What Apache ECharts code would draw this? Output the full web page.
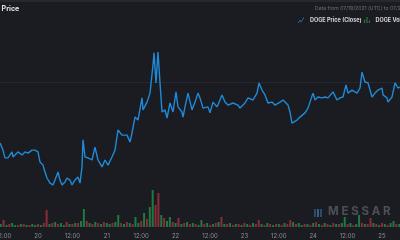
<!DOCTYPE html>
<html><head><meta charset="utf-8">
<script src="https://cdn.jsdelivr.net/npm/echarts@6/dist/echarts.min.js"></script>
<style>html,body{margin:0;padding:0;background:#1b1c21;}#c{width:400px;height:240px;}</style>
</head><body><div id="c"></div>
<script>
// hours since 2021-07-19 00:00 UTC
const priceHours = [10.74,11.79,12.49,13.53,14.93,15.28,17.02,18.42,19.47,20.51,21.91,22.95,24.00,24.70,25.74,26.44,27.14,28.19,29.23,29.93,30.98,31.67,32.37,33.42,34.12,35.16,35.86,36.91,37.95,38.65,39.35,39.70,40.40,41.44,42.84,43.88,44.93,46.33,47.37,48.42,49.81,50.86,51.91,53.30,55.05,56.09,56.79,57.84,58.88,60.28,60.63,62.02,63.07,64.12,64.47,65.16,65.86,66.56,67.26,68.30,69.00,70.05,71.10,72.14,72.84,74.23,74.58,75.28,76.33,77.72,78.77,79.81,80.51,81.56,83.30,84.00,85.05,86.44,87.49,88.19,89.23,90.28,92.02,93.77,94.47,96.21,97.26,99.00,100.40,101.10,102.14,103.19,104.23,105.63,106.67,108.42,109.47,111.21,111.91,112.60,112.95,114.35,115.40,117.14,118.19,118.88,119.93,120.63,121.67,123.07,124.12,125.16,126.91,128.30,129.35,130.40,131.44,132.14,133.53,135.28,136.33,137.02,138.07,139.12,140.51,141.56,142.60,144.00,144.35,145.74,146.09,147.49,147.84,148.54,149.58,150.28];
const priceClose = [0.1797,0.1773,0.1747,0.1747,0.1767,0.1750,0.1767,0.1757,0.1767,0.1763,0.1773,0.1773,0.1767,0.1733,0.1723,0.1700,0.1680,0.1663,0.1657,0.1673,0.1700,0.1673,0.1657,0.1667,0.1680,0.1673,0.1657,0.1673,0.1683,0.1663,0.1717,0.1807,0.1750,0.1747,0.1740,0.1783,0.1740,0.1717,0.1740,0.1723,0.1750,0.1773,0.1840,0.1823,0.1823,0.1800,0.1830,0.1883,0.1873,0.1947,0.1907,0.1933,0.1963,0.2057,0.2097,0.1997,0.2100,0.1997,0.1900,0.1907,0.1880,0.1930,0.1900,0.1967,0.1917,0.1900,0.1883,0.1917,0.1963,0.1907,0.1933,0.1963,0.1947,0.1913,0.1917,0.1897,0.1933,0.1917,0.1940,0.1957,0.1933,0.1923,0.1930,0.1923,0.1913,0.1930,0.1947,0.1940,0.1963,0.1997,0.1973,0.1957,0.1930,0.1933,0.1923,0.1933,0.1940,0.1923,0.1900,0.1863,0.1857,0.1873,0.1883,0.1897,0.1913,0.1933,0.1963,0.1940,0.1950,0.1947,0.1950,0.1947,0.1967,0.1940,0.1947,0.1950,0.1990,0.1963,0.1973,0.1963,0.1980,0.2033,0.2000,0.1997,0.1950,0.1963,0.1973,0.1980,0.1957,0.1947,0.1933,0.1950,0.1947,0.1997,0.1980,0.1983];
// hourly volume from hour 11; positive = up (green), negative = down (red)
const volumeStartHour = 11;
const volumeSigned = [
 3,-7,2,-3,4,2,-2,3,-3,2,
 -2,3,2,-3,2,-4,-17,3,-4,5,
 -3,4,2,-5,3,-3,4,-4,6,18,
 -6,4,-3,5,-4,3,-5,4,3,-4,
 5,12,-4,3,-5,4,-3,10,4,-6,
 14,-8,20,37,-22,-34,12,-9,6,10,
 -5,4,-9,3,-4,5,-3,4,-3,2,
 7,-3,4,-2,3,-4,5,-10,3,-3,
 4,-2,3,-3,2,-4,3,-2,4,-3,
 -7,3,-2,4,-3,2,-3,3,-2,4,
 -3,-7,5,-3,4,2,-3,3,-2,4,
 -5,3,-2,4,-3,2,-4,3,-3,4,
 10,-3,4,-2,3,12,-4,3,-3,-9,
 4,-3,2,-4,3,-2,4,6,-3,3];
const seriesNames = ['DOGE Price (Close)', 'DOGE Volume'];
const titleText = 'DOGE Price';
const rangeText = 'Data from 07/19/2021 (UTC) to 07/25/2021 (UTC)';

const priceData = priceHours.map((h, i) => [h, priceClose[i]]);
const volData = volumeSigned.map((v, i) => ({
  value: [volumeStartHour + i, Math.abs(v)],
  itemStyle: { color: v >= 0 ? '#1f7a3f' : '#8c2c3a' }
}));

const chart = echarts.init(document.getElementById('c'), null, { renderer: 'canvas' });
const xCommon = { type: 'value', min: 0, max: 156, interval: 12 };
const legendText = { color: '#d6d7db', fontSize: 5.5, fontWeight: 'bold', fontFamily: 'Inter' };
chart.setOption({
  backgroundColor: '#1b1c21',
  animation: false,
  grid: [
    { left: -30.8, right: -16.4, top: -218, height: 600, outerBoundsMode: 'none', containLabel: false },
    { left: -30.8, right: -16.4, top: 127, height: 100, outerBoundsMode: 'none', containLabel: false }
  ],
  legend: [
    { left: 298, top: 17, itemWidth: 8, itemHeight: 6, itemGap: 4, padding: 0, textStyle: legendText,
      data: [{ name: seriesNames[0], icon: 'path://M0,10 L3,5 L5,7 L10,0 L10,1.5 L5.2,8.6 L3,6.6 L1.2,10 Z' }] },
    { left: 364, top: 17, itemWidth: 7, itemHeight: 6, padding: 0, textStyle: legendText,
      data: [{ name: seriesNames[1], icon: 'path://M0,4 L2,4 L2,10 L0,10 Z M4,0 L6,0 L6,10 L4,10 Z M8,6 L10,6 L10,10 L8,10 Z' }] }
  ],
  xAxis: [
    Object.assign({ gridIndex: 0, show: false }, xCommon),
    Object.assign({ gridIndex: 1,
      axisLine: { show: false }, axisTick: { show: false }, splitLine: { show: false },
      axisLabel: { color: '#8a8d96', fontSize: 6, margin: 6, fontFamily: 'Inter',
        formatter: v => (v % 24 === 0 ? String(19 + v / 24) : '12:00') }
    }, xCommon)
  ],
  yAxis: [
    { gridIndex: 0, type: 'value', min: 0.1, max: 0.3, interval: 0.1,
      axisLine: { show: false }, axisTick: { show: false }, axisLabel: { show: false },
      splitLine: { show: true, lineStyle: { color: '#26282f', width: 1 } } },
    { gridIndex: 1, type: 'value', min: 0, max: 100, show: false, splitLine: { show: false } }
  ],
  graphic: [
    { type: 'rect', left: 0, top: 0, shape: { width: 400, height: 2 }, style: { fill: '#26282e' }, silent: true },
    { type: 'text', left: -20, top: 5, style: { text: titleText, fill: '#e2e3e6', fontSize: 7, fontWeight: 'bold', fontFamily: 'Inter' } },
    { type: 'text', left: 315, top: 6, style: { text: rangeText, fill: '#6d7079', fontSize: 5.1, fontFamily: 'Inter' } },
    { type: 'rect', left: 314, top: 209, shape: { width: 2, height: 8 }, style: { fill: '#2c4a68' } },
    { type: 'rect', left: 317, top: 209, shape: { width: 2, height: 8 }, style: { fill: '#3a5f85' } },
    { type: 'rect', left: 320, top: 209, shape: { width: 2, height: 8 }, style: { fill: '#2c4a68' } },
    { type: 'text', left: 328, top: 206, style: { text: 'M E S S A R', fill: '#4d5059', fontSize: 11.5, fontWeight: 'bold', fontFamily: 'Inter' } }
  ],
  series: [
    { name: seriesNames[0], type: 'line', xAxisIndex: 0, yAxisIndex: 0, data: priceData,
      showSymbol: false, lineStyle: { color: '#1f8ad8', width: 1.4 }, itemStyle: { color: '#1f8ad8' }, z: 3 },
    { name: seriesNames[1], type: 'bar', xAxisIndex: 1, yAxisIndex: 1, data: volData,
      barWidth: 2, itemStyle: { color: '#1f7a3f' }, z: 2 }
  ]
});
</script></body></html>
